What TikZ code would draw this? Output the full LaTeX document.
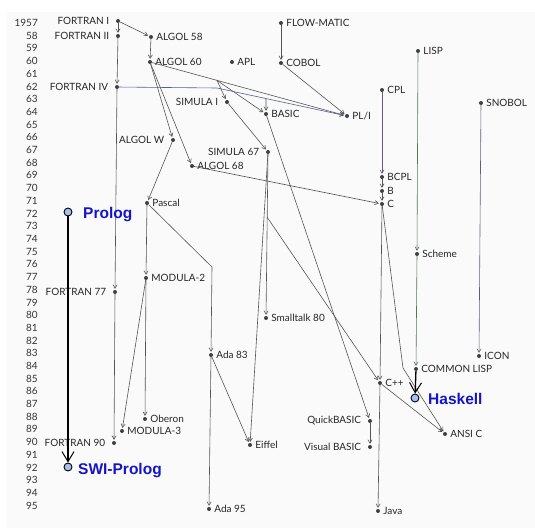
\documentclass[tikz,border=0pt]{standalone}
\usepackage{fontspec}
\setmainfont{Lato}
\newfontfamily\blfont{Liberation Sans}
\usetikzlibrary{arrows.meta,calc}
\definecolor{lngray}{HTML}{555555}
\definecolor{dotgray}{HTML}{404040}
\definecolor{plblue}{HTML}{1414C8}
\definecolor{circfill}{HTML}{A6C0F2}
\definecolor{bgpaper}{HTML}{FAFAFA}
\definecolor{lispgreen}{HTML}{5C6E5E}
\definecolor{snopurple}{HTML}{665C70}
\definecolor{fortblue}{HTML}{56608A}
\tikzset{
  lang/.style={circle,fill=dotgray,inner sep=0pt,minimum size=4pt},
  lbl/.style={font=\fontsize{10}{12}\selectfont,text=black!85,inner sep=0pt},
  labl/.style={label={[lbl,label distance=6.5pt]left:#1}},
  labr/.style={label={[lbl,label distance=3pt]right:#1}},
  yr/.style={font=\fontsize{10}{12}\selectfont,text=black!80,anchor=east,inner sep=0pt},
  edge/.style={draw=lngray,line width=0.6pt,-{Straight Barb[length=3.5pt,width=4.2pt,line width=0.6pt]},shorten >=1pt},
  plain/.style={draw=lngray,line width=0.6pt},
  bigdot/.style={circle,draw=black,line width=0.9pt,fill=circfill,minimum size=8pt,inner sep=0pt},
  biglbl/.style={font=\blfont\bfseries\fontsize{15.5}{18}\selectfont,text=plblue,anchor=base west,inner sep=0pt},
  heavy/.style={draw=black,line width=1.3pt,-{Straight Barb[length=10pt,width=12pt,line width=1pt]}}
}
\begin{document}
\begin{tikzpicture}[x=1pt,y=-1pt]
\useasboundingbox (0,0) rectangle (535,528);
\fill[bgpaper] (7,12) rectangle (535,528);
% year axis
\node[yr] (y57) at (38,23) {1957};
\foreach \i in {58,...,95} {\node[yr] (y\i) at (38,{23+12.7*(\i-57)}) {\i};}
% languages
\node[lang,labl={FORTRAN I}] (f1) at (118,21) {};
\node[lang,labl={FORTRAN II}] (f2) at (118,36) {};
\node[lang,labl={FORTRAN IV}] (f4) at (117,87) {};
\node[lang,labl={FORTRAN 77}] (f77) at (115,292) {};
\node[lang,labl={FORTRAN 90}] (f90) at (114,443) {};
\node[lang,labr={ALGOL 58}] (a58) at (151,37) {};
\node[lang,labr={ALGOL 60}] (a60) at (150,62) {};
\node[lang,labr={APL}] (apl) at (232,62) {};
\node[lang,labr={FLOW-MATIC}] (flow) at (281,23) {};
\node[lang,labr={COBOL}] (cobol) at (281,63) {};
\node[lang,labr={LISP}] (lisp) at (418,51) {};
\node[lang,labr={CPL}] (cpl) at (382,90) {};
\node[lang,labr={SNOBOL}] (snobol) at (481,103) {};
\node[lang,labr={PL/I}] (pl1) at (347,116) {};
\node[lang,labr={BASIC}] (basic) at (266,114) {};
\node[lang,labl={SIMULA I}] (sim1) at (227,102) {};
\node[lang,labl={ALGOL W}] (algw) at (173,140) {};
\node[lang,labl={SIMULA 67}] (sim67) at (268,152) {};
\node[lang,labr={ALGOL 68}] (a68) at (192,166) {};
\node[lang,labr={BCPL}] (bcpl) at (382,177) {};
\node[lang,labr={B}] (b) at (382,191) {};
\node[lang,labr={C}] (c) at (382,204) {};
\node[lang,labr={Pascal}] (pascal) at (147,203) {};
\node[lang,labr={MODULA-2}] (mod2) at (146,278) {};
\node[lang,labr={Scheme}] (scheme) at (417,254) {};
\node[lang,labr={Smalltalk 80}] (st80) at (266,318) {};
\node[lang,labr={Ada 83}] (ada83) at (211,355) {};
\node[lang,labr={COMMON LISP}] (clisp) at (416,369) {};
\node[lang,labr={ICON}] (icon) at (479,356) {};
\node[lang,labr={C++}] (cpp) at (380,383) {};
\node[lang,labl={QuickBASIC}] (qb) at (370,421) {};
\node[lang,labl={Visual BASIC}] (vb) at (370,447) {};
\node[lang,labr={ANSI C}] (ansic) at (445,434) {};
\node[lang,labr={Java}] (java) at (378,511) {};
\node[lang,labr={Oberon}] (oberon) at (145,419) {};
\node[lang,labr={MODULA-3}] (mod3) at (122,431) {};
\node[lang,labr={Eiffel}] (eiffel) at (250,445) {};
\node[lang,labr={Ada 95}] (ada95) at (209,509) {};
% bend points
\coordinate (p1) at ($(a60)!0.34!(pl1)$);
\coordinate (p2) at (217,88);
\coordinate (p3) at ($(p2)!0.377!(pl1)$);
\coordinate (bPA) at (212,267);
\coordinate (bSC) at (267,217);
\coordinate (bCA) at (403,368);
% connectors
\draw[edge] (f1) -- (f2);
\draw[edge] (f1) -- (a58);
\draw[edge] (f2) -- (f4);
\draw[edge] (a58) -- (a60);
\draw[edge] (f4) -- (f77);
\draw[edge] (f77) -- (f90);
\draw[edge] (flow) -- (cobol);
\draw[edge] (cobol) -- (pl1);
\draw[edge] (a60) -- (pl1);
\draw[edge] (p1) -- (sim1);
\draw[edge] (p1) -- (basic);
\draw[edge,draw=fortblue] (f4) -- (p2) -- (pl1);
\draw[edge] (p3) -- (basic);
\draw[edge] (a60) -- (algw);
\draw[edge] (a60) -- (a68);
\draw[edge] (sim1) -- (sim67);
\draw[edge] (algw) -- (pascal);
\draw[edge] (a68) -- (c);
\draw[edge,draw=snopurple] (cpl) -- (bcpl);
\draw[edge] (bcpl) -- (b);
\draw[edge] (b) -- (c);
\draw[edge] (pascal) -- (mod2);
\draw[edge] (pascal) -- (bPA) -- (ada83);
\draw[edge] (mod2) -- (mod3);
\draw[edge] (mod2) -- (oberon);
\draw[edge] (ada83) -- (ada95);
\draw[edge] (ada83) -- (eiffel);
\draw[edge] (sim67) -- (eiffel);
\draw[edge] (sim67) -- (st80);
\draw[edge] (bSC) -- (cpp);
\draw[edge] (basic) -- (qb);
\draw[edge] (qb) -- (vb);
\draw[edge] (c) -- (cpp);
\draw[edge] (c) -- (bCA) -- (ansic);
\draw[edge] (cpp) -- (ansic);
\draw[edge] (cpp) -- (java);
\draw[edge,draw=lispgreen] (lisp) -- (scheme);
\draw[edge,draw=lispgreen] (scheme) -- (clisp);
\draw[edge,draw=snopurple] (snobol) -- (icon);
% highlighted languages
\node[bigdot] (prolog) at (68,212) {};
\node[biglbl] (prologl) at (83,218.5) {Prolog};
\node[bigdot] (swi) at (68,467) {};
\node[biglbl] (swil) at (78,474) {SWI-Prolog};
\node[bigdot] (haskell) at (415,398) {};
\node[biglbl] (haskelll) at (428,404.5) {Haskell};
\draw[heavy] (prolog) -- (swi);
\draw[heavy] (clisp) -- (haskell);
\end{tikzpicture}
\end{document}
